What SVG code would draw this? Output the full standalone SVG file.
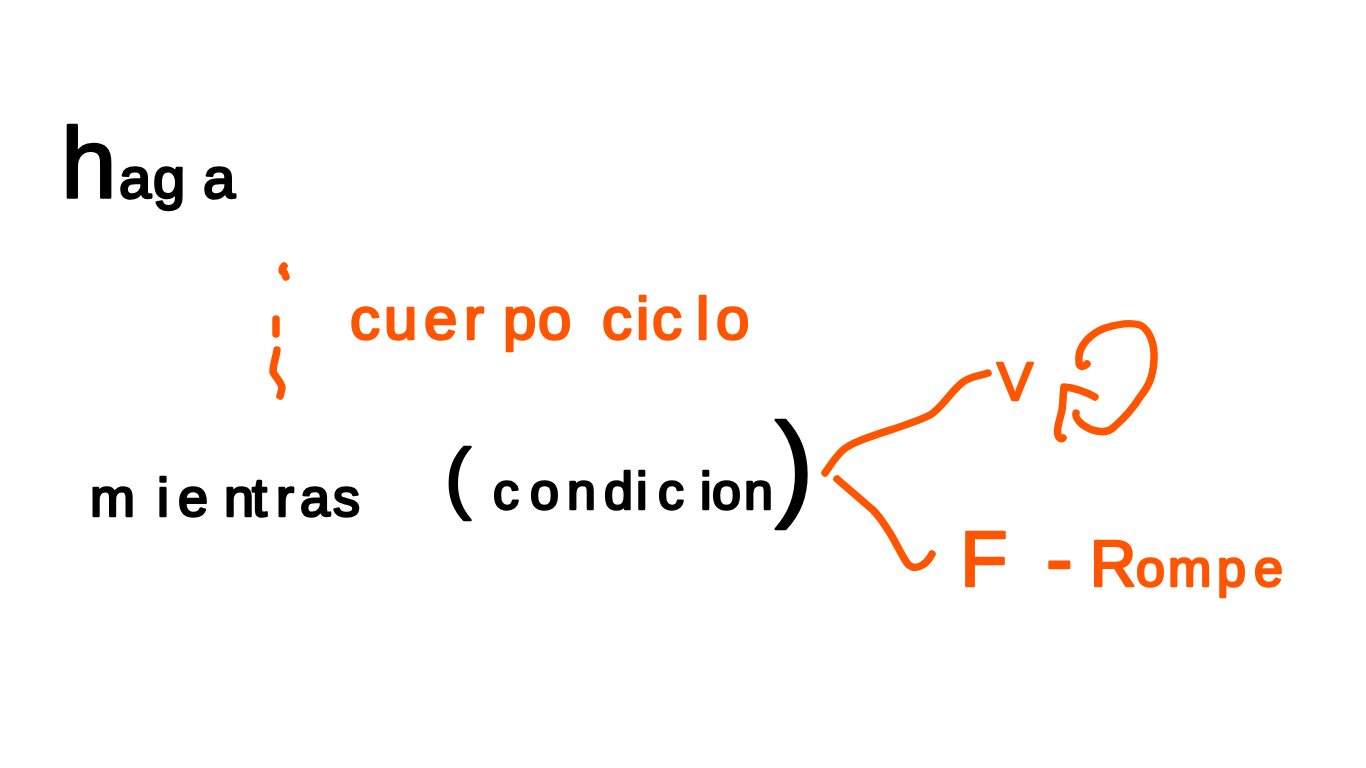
<svg xmlns="http://www.w3.org/2000/svg" width="1366" height="768" viewBox="0 0 1366 768">
<style>
text{font-family:"Liberation Sans",Arial,sans-serif;stroke-linejoin:round;stroke-linecap:round}
.k{fill:#000;stroke:#000;stroke-width:2.5}
.o{fill:#ff5500;stroke:#ff5500;stroke-width:2.5}
.c{fill:none;stroke:#ff5500;stroke-width:7.5;stroke-linecap:round;stroke-linejoin:round}
</style>
<rect width="1366" height="768" fill="#fff"/>
<g id="haga"><text class="k" y="198" font-size="58"><tspan x="61" font-size="100">h</tspan><tspan x="119">a</tspan><tspan x="153">g</tspan><tspan x="203">a</tspan></text></g>
<g id="cuerpo"><text class="o" y="339" font-size="60" x="350 384 424 464 503 538 580 602 636 652 696 716">cuerpo ciclo</text></g>
<g id="mientras"><text class="k" y="516" font-size="54" x="90 157 178 224 252 276 300 333">mientras</text></g>
<g id="condicion"><text class="k" y="509" font-size="52"><tspan x="445" y="504" font-size="78">(</tspan><tspan x="493" y="509">c</tspan><tspan x="530">o</tspan><tspan x="567">n</tspan><tspan x="604">d</tspan><tspan x="636">i</tspan><tspan x="658">c</tspan><tspan x="700">i</tspan><tspan x="712">o</tspan><tspan x="744">n</tspan><tspan x="775" y="505" font-size="116">)</tspan></text></g>
<g id="verdadero"><text class="o" y="400" x="997" font-size="54">V</text></g>
<g id="falso"><text class="o" y="586" font-size="52"><tspan x="960" font-size="78">F</tspan><tspan x="1046" font-size="80">-</tspan><tspan x="1090" font-size="64">R</tspan><tspan x="1136">o</tspan><tspan x="1168">m</tspan><tspan x="1217">p</tspan><tspan x="1254">e</tspan></text></g>
<g id="connectors">
<path class="c" d="M825 473C832 463 836 456 843 450C858 437 905 428 930 415C942 408 950 392 963 382C971 376 980 376 988 373"/>
<path class="c" d="M837 479L873 510C880 517 883 522 890 533C896 543 902 556 907 563C912 571 925 568 932 554"/>
<path class="c" d="M1087 364C1083 368 1079 367 1079 362C1077 345 1092 333 1105 328C1118 324 1130 322 1140 325C1150 330 1155 345 1154 360C1153 378 1148 387 1140 397C1132 410 1122 420 1114 427C1105 436 1090 430 1083 425C1077 420 1075 416 1076 413"/>
<path class="c" d="M1095 397C1086 392 1077 388 1064 387C1063 395 1063 403 1062 410C1060 420 1056 428 1058 435C1059 439 1062 439 1063 438"/>
<path class="c" d="M284 266C281 270 282 272 284 272L286 277"/>
<path class="c" d="M276 319V334"/>
<path class="c" d="M277 350C276 358 273 364 273 372C276 378 282 383 282 388C281 392 281 394 280 396"/>
</g>
</svg>
